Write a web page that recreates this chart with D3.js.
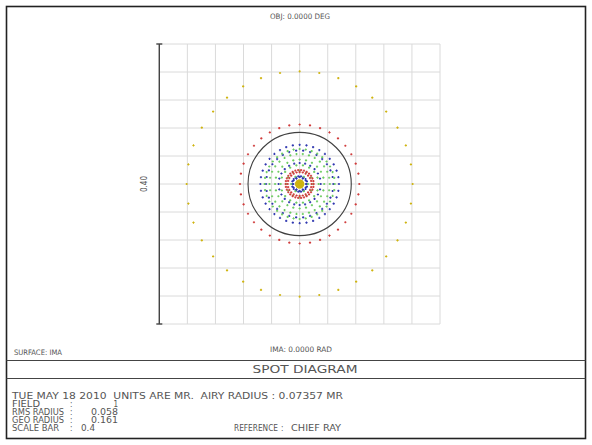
<!DOCTYPE html>
<html>
<head>
<meta charset="utf-8">
<script src="https://cdn.jsdelivr.net/npm/d3@7"></script>
<style>
  html, body { margin: 0; padding: 0; background: #fff; }
  svg { display: block; }
  text { font-family: "DejaVu Sans Condensed", "DejaVu Sans", "Liberation Sans", sans-serif; fill: #555; white-space: pre; }
</style>
</head>
<body>
<svg id="chart" width="592" height="445"></svg>
<script>
// Spot diagram data (units: MR). Each wavelength traced through a hexapolar pupil grid:
// ring k holds 6k rays; the arrays give the image-space radius of each ring (ring 0 = chief ray).
const wavelengthNames = ["W1", "W2", "W3", "W4"];
const wavelengthColors = ["#3038b0", "#6ccc60", "#d03c3c", "#cfb410"];
const ringRadiiW1 = [0, 0.009, 0.010, 0.011, 0.030, 0.048, 0.056];
const ringRadiiW2 = [0, 0.012, 0.019, 0.027, 0.035, 0.043, 0.050];
const ringRadiiW3 = [0, 0.002, 0.003, 0.004, 0.017, 0.020, 0.085];
const ringRadiiW4 = [0, 0.001, 0.002, 0.003, 0.004, 0.005, 0.161];

const gridTicks = [-0.20, -0.16, -0.12, -0.08, -0.04, 0.00, 0.04, 0.08, 0.12, 0.16, 0.20];
const scaleBar = 0.4;
const airyRadius = 0.07357;
const rmsRadius = 0.058;
const geoRadius = 0.161;
const fieldNumber = 1;

const svg = d3.select("#chart");
const W = 592, H = 445;

svg.append("rect").attr("width", W).attr("height", H).attr("fill", "#fff");

// plot area: a square window scaleBar wide, centred on the chief ray
const x = d3.scaleLinear().domain([-scaleBar / 2, scaleBar / 2]).range([159.3, 440]);
const y = d3.scaleLinear().domain([-scaleBar / 2, scaleBar / 2]).range([324, 44]);

// grid
const grid = svg.append("g").attr("stroke", "#dadada").attr("stroke-width", 1);
grid.selectAll("line.v").data(gridTicks).join("line")
  .attr("x1", d => x(d)).attr("x2", d => x(d))
  .attr("y1", y(gridTicks[0])).attr("y2", y(gridTicks[gridTicks.length - 1]));
grid.selectAll("line.h").data(gridTicks).join("line")
  .attr("y1", d => y(d)).attr("y2", d => y(d))
  .attr("x1", x(gridTicks[0])).attr("x2", x(gridTicks[gridTicks.length - 1]));

// airy disk
svg.append("circle")
  .attr("cx", x(0)).attr("cy", y(0))
  .attr("r", x(airyRadius) - x(0))
  .attr("fill", "none").attr("stroke", "#404040").attr("stroke-width", 1.1);

// rays
const ringSets = [ringRadiiW1, ringRadiiW2, ringRadiiW3, ringRadiiW4];
const rays = [];
ringSets.forEach((radii, w) => {
  radii.forEach((r, k) => {
    const n = k === 0 ? 1 : 6 * k;
    for (let j = 0; j < n; j++) {
      const a = 2 * Math.PI * j / n;
      rays.push({ w, px: r * Math.cos(a), py: r * Math.sin(a) });
    }
  });
});
svg.append("g").selectAll("path").data(rays).join("path")
  .attr("transform", d => `translate(${x(d.px)},${y(d.py)})`)
  .attr("d", "M-1.1,0H1.1M0,-1.1V1.1")
  .attr("stroke", d => wavelengthColors[d.w])
  .attr("stroke-width", 1.1)
  .attr("fill", "none");

// scale bar
const sb = svg.append("g").attr("stroke", "#444").attr("stroke-width", 1.4);
sb.append("line").attr("x1", x(-scaleBar / 2)).attr("x2", x(-scaleBar / 2))
  .attr("y1", y(scaleBar / 2)).attr("y2", y(-scaleBar / 2));
[scaleBar / 2, -scaleBar / 2].forEach(v => {
  sb.append("line").attr("x1", x(-scaleBar / 2) - 3).attr("x2", x(-scaleBar / 2) + 3)
    .attr("y1", y(v)).attr("y2", y(v));
});
svg.append("text")
  .attr("transform", `translate(147,${y(0)}) rotate(-90)`)
  .attr("text-anchor", "middle")
  .attr("font-size", 8)
  .attr("textLength", 16).attr("lengthAdjust", "spacingAndGlyphs")
  .text(scaleBar.toFixed(2));

// frame and header/footer rules
svg.append("rect").attr("x", 6.5).attr("y", 6.5).attr("width", 579).attr("height", 432)
  .attr("fill", "none").attr("stroke", "#222").attr("stroke-width", 1.6);
svg.append("line").attr("x1", 6.5).attr("x2", 585.5).attr("y1", 360.5).attr("y2", 360.5)
  .attr("stroke", "#444").attr("stroke-width", 1);
svg.append("line").attr("x1", 6.5).attr("x2", 585.5).attr("y1", 378.5).attr("y2", 378.5)
  .attr("stroke", "#444").attr("stroke-width", 1);

function label(tx, ty, str, size, len, anchor) {
  const t = svg.append("text").attr("x", tx).attr("y", ty)
    .attr("font-size", size).attr("text-anchor", anchor || "start").text(str);
  if (len) t.attr("textLength", len).attr("lengthAdjust", "spacingAndGlyphs");
  return t;
}

label(300, 19, "OBJ: 0.0000 DEG", 7.5, 60, "middle");
label(301, 352, "IMA: 0.0000 RAD", 7.5, 62, "middle");
label(14, 355, "SURFACE: IMA", 7.5, 48);
label(305, 372.5, "SPOT DIAGRAM", 11, 105, "middle");

const by = [399, 407, 415, 423, 431];
label(12, by[0], "TUE MAY 18 2010  UNITS ARE MR.  AIRY RADIUS : " + airyRadius.toFixed(5) + " MR", 8, 331);
label(12, by[1], "FIELD", 8, 28);
label(12, by[2], "RMS RADIUS", 8, 52);
label(12, by[3], "GEO RADIUS", 8, 52);
label(12, by[4], "SCALE BAR", 8, 47);
by.slice(1).forEach(v => label(70, v, ":", 8));
label(118, by[1], String(fieldNumber), 8, null, "end");
label(118, by[2], rmsRadius.toFixed(3), 8, 27, "end");
label(118, by[3], geoRadius.toFixed(3), 8, 27, "end");
label(81, by[4], String(scaleBar), 8, 14);
label(234, by[4], "REFERENCE", 8, 44);
label(281, by[4], ":", 8);
label(291, by[4], "CHIEF RAY", 8, 50);
</script>
</body>
</html>
